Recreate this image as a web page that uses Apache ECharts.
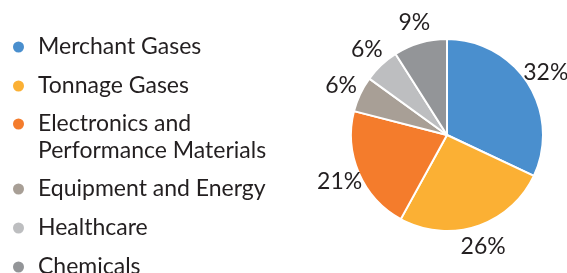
<!DOCTYPE html>
<html>
<head>
<meta charset="utf-8">
<script src="https://cdn.jsdelivr.net/npm/echarts@6/dist/echarts.min.js"></script>
<style>
  html, body { margin: 0; padding: 0; background: #fff; }
  #chart { width: 567px; height: 273px; }
</style>
</head>
<body>
<div id="chart"></div>
<script>
const segments = [
  "Merchant Gases",
  "Tonnage Gases",
  "Electronics and Performance Materials",
  "Equipment and Energy",
  "Healthcare",
  "Chemicals",
];
const shares = [32, 26, 21, 6, 6, 9];
const colors = ["#4a8fce", "#fbb034", "#f47c2c", "#a89f96", "#bdbec0", "#939598"];

const font = "Lato";
const data = segments.map((name, i) => ({
  name,
  value: shares[i],
  itemStyle: { color: colors[i] },
}));

// one shared look for the three legend blocks
function legendBlock(names, top, formatter) {
  return {
    orient: "vertical",
    left: 6,
    top,
    height: 140,
    icon: "circle",
    itemWidth: 13,
    itemHeight: 13,
    itemGap: 5,
    selectedMode: false,
    textStyle: {
      fontFamily: font,
      fontSize: 23,
      color: "#231f20",
      lineHeight: 27,
      padding: [0, 0, 7, 8],
    },
    formatter,
    data: names,
  };
}

const chart = echarts.init(document.getElementById("chart"));
chart.setOption({
  animation: false,
  legend: [
    legendBlock(segments.slice(0, 2), 25),
    // blank first line keeps the dot level with "Electronics and"
    legendBlock(segments.slice(2, 3), 75, () => "\nElectronics and\nPerformance Materials"),
    legendBlock(segments.slice(3), 167),
  ],
  series: [
    {
      type: "pie",
      center: [447, 135],
      radius: 96,
      startAngle: 90,
      silent: true,
      itemStyle: { borderColor: "#fff", borderWidth: 2 },
      label: { show: false },
      labelLine: { show: false },
      data,
    },
    {
      // transparent ring that carries the percentage labels
      type: "pie",
      center: [447, 135],
      radius: [96, 132],
      startAngle: 90,
      silent: true,
      itemStyle: { color: "transparent" },
      label: {
        show: true,
        position: "inside",
        formatter: "{c}%",
        fontFamily: font,
        fontSize: 23,
        color: "#231f20",
      },
      labelLine: { show: false },
      data: segments.map((name, i) => ({ name, value: shares[i] })),
    },
  ],
});
</script>
</body>
</html>
